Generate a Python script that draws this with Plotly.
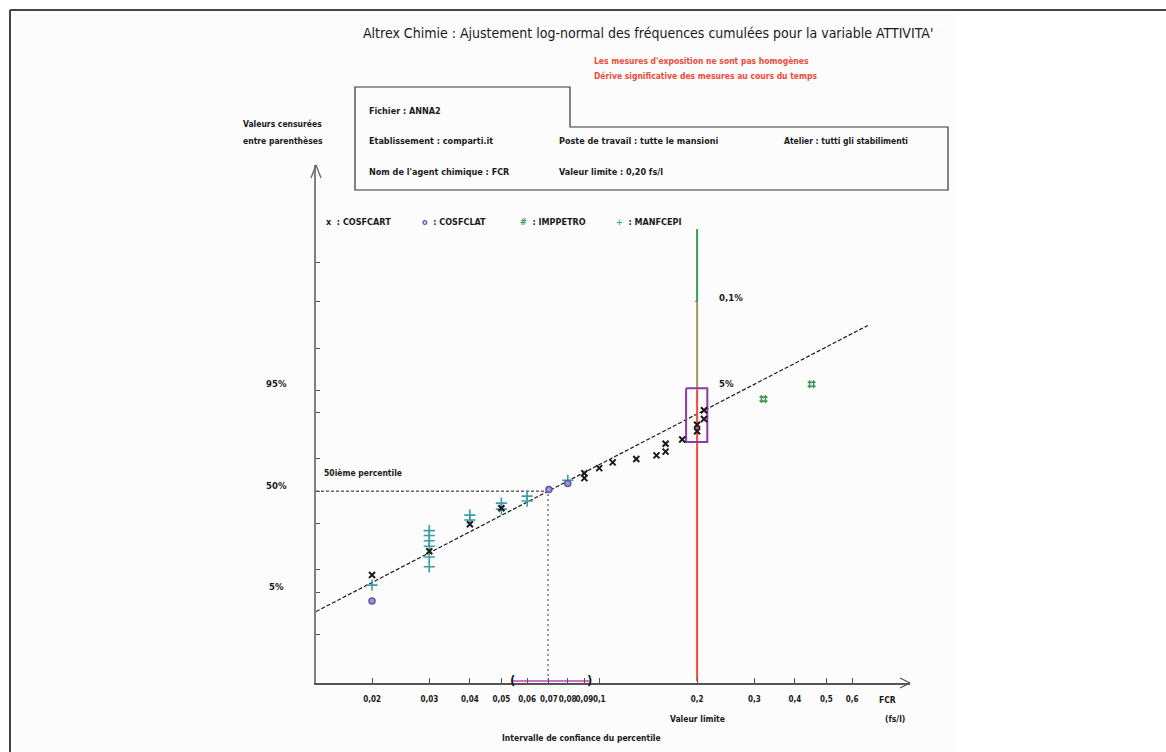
import math
from statistics import NormalDist
import plotly.graph_objects as go

# ---------------------------------------------------------------- data
# Measured concentrations (fs/l) and their cumulative frequencies (%)
cart_x = [0.02, 0.03, 0.04, 0.05, 0.09, 0.09, 0.10, 0.11, 0.13, 0.15, 0.16, 0.16, 0.18, 0.20, 0.20, 0.21, 0.21]
cart_p = [8.6, 16.4, 29.5, 39.0, 58.4, 61.5, 64.6, 68.0, 70.0, 72.0, 74.0, 78.0, 80.0, 83.5, 86.0, 88.0, 90.6]

clat_x = [0.02, 0.07, 0.08]
clat_p = [3.7, 51.0, 55.0]

imp_x = [0.32, 0.45]
imp_p = [93.3, 95.9]

manf_x = [0.02, 0.03, 0.03, 0.03, 0.03, 0.03, 0.03, 0.04, 0.04, 0.05, 0.05, 0.06, 0.06, 0.08]
manf_p = [6.3, 26.0, 23.5, 21.0, 18.5, 14.2, 10.9, 34.8, 31.9, 42.3, 38.5, 46.8, 43.6, 57.0]

# Fitted log-normal line (end points)
fit_x = [0.01345, 0.67]
fit_p = [2.5, 99.65]

# 50th percentile and its confidence interval
median_x = 0.0696
median_p = 50.0
ci_x = [0.054, 0.093]

# Limit value and exceedance zones along it
vle = 0.20
zone_red_p = [0.1, 95.0]
zone_olive_p = [95.0, 99.9]
zone_green_p = [99.9, 99.999]
box_x = [0.185, 0.215]
box_p = [78.8, 95.3]

xtick_vals = [0.02, 0.03, 0.04, 0.05, 0.06, 0.07, 0.08, 0.09, 0.1, 0.2, 0.3, 0.4, 0.5, 0.6]
xtick_text = ["0,02", "0,03", "0,04", "0,05", "0,06", "0,07", "0,08", "0,09", "0,1",
              "0,2", "0,3", "0,4", "0,5", "0,6"]
ytick_p = [1, 5, 10, 30, 50, 70, 90, 95, 99, 99.9, 99.99]
ylabel_p = [95, 50, 5]
ylabel_text = ["95%", "50%", "5%"]

# ---------------------------------------------------------------- helpers
nd = NormalDist()


def z(p):
    return nd.inv_cdf(p / 100.0)


def zs(ps):
    return [z(p) for p in ps]


W, H = 1166, 752
L, RGT, T, B = 316, 910, 165, 683          # plot area in pixels


def px(x):
    return (x - L) / (RGT - L)


def py(y):
    return (B - y) / (B - T)


FONT = "DejaVu Sans Condensed, DejaVu Sans, sans-serif"
BLACK = "#1a1a1a"
RED = "#f04a3a"
OLIVE = "#a39a4e"
GREEN = "#3a9a55"
PURPLE = "#8b3aa8"
PINK = "#d070d0"
TEAL = "#3a9ea6"
BLUE = "#5a5aa8"

fig = go.Figure()

# fitted line
fig.add_trace(go.Scatter(x=fit_x, y=zs(fit_p), mode="lines",
                         line=dict(color=BLACK, width=1.2, dash="4px,2px"), showlegend=False))

# 50th percentile guides
x_left = 10 ** (-1.8713)
fig.add_trace(go.Scatter(x=[x_left, median_x], y=[z(median_p)] * 2, mode="lines",
                         line=dict(color=BLACK, width=1, dash="3px,2px"), showlegend=False))
fig.add_trace(go.Scatter(x=[median_x, median_x], y=[z(0.1), z(median_p)], mode="lines",
                         line=dict(color="#777777", width=1.5, dash="2px,3px"), showlegend=False))

# confidence interval of the percentile
fig.add_trace(go.Scatter(x=ci_x, y=[z(0.1)] * 2, mode="lines",
                         line=dict(color=PINK, width=2), showlegend=False))

# limit value line, coloured by exceedance zone
for rng, col in ((zone_red_p, RED), (zone_olive_p, OLIVE), (zone_green_p, GREEN)):
    fig.add_trace(go.Scatter(x=[vle, vle], y=zs(rng), mode="lines",
                             line=dict(color=col, width=2), showlegend=False))
fig.add_trace(go.Scatter(x=[vle * 0.985, vle], y=[z(99.9)] * 2, mode="lines",
                         line=dict(color="#666666", width=1), showlegend=False))

# box around the exceedance estimate
fig.add_trace(go.Scatter(x=[box_x[0], box_x[1], box_x[1], box_x[0], box_x[0]],
                         y=[z(box_p[1]), z(box_p[1]), z(box_p[0]), z(box_p[0]), z(box_p[1])],
                         mode="lines", line=dict(color=PURPLE, width=2), showlegend=False))

# measurement series
fig.add_trace(go.Scatter(x=manf_x, y=zs(manf_p), mode="markers", name="MANFCEPI",
                         marker=dict(symbol="cross-thin", size=8, line=dict(color=TEAL, width=1.6)),
                         showlegend=False))
fig.add_trace(go.Scatter(x=cart_x, y=zs(cart_p), mode="markers", name="COSFCART",
                         marker=dict(symbol="x-thin", size=6, line=dict(color=BLACK, width=2)),
                         showlegend=False))
fig.add_trace(go.Scatter(x=clat_x, y=zs(clat_p), mode="markers", name="COSFCLAT",
                         marker=dict(symbol="circle", size=6, color="#9a9ad0",
                                     line=dict(color=BLUE, width=1.5)),
                         showlegend=False))
fig.add_trace(go.Scatter(x=imp_x, y=zs(imp_p), mode="markers", name="IMPPETRO",
                         marker=dict(symbol="hash-open", size=8, color=GREEN,
                                     line=dict(color=GREEN, width=1.6)),
                         showlegend=False))

# ---------------------------------------------------------------- annotations
ann = []


def text(x, y, s, size=10, color=BLACK, anchor="left", bold=True, vanchor="middle"):
    ann.append(dict(x=px(x), y=py(y), xref="paper", yref="paper", text=s, showarrow=False,
                    xanchor=anchor, yanchor=vanchor,
                    font=dict(family=FONT, size=size, color=color,
                              weight="bold" if bold else "normal")))


text(648, 33, "Altrex Chimie : Ajustement log-normal des fréquences cumulées pour la variable ATTIVITA'",
     size=14, anchor="center", bold=False)
text(592, 61, "Les mesures d'exposition ne sont pas homogènes", size=8.5, color=RED)
text(592, 76, "Dérive significative des mesures au cours du temps", size=8.5, color=RED)

text(367, 111, "Fichier : ANNA2", size=9)
text(367, 141, "Etablissement : comparti.it", size=9)
text(557, 141, "Poste de travail : tutte le mansioni", size=9)
text(782, 141, "Atelier : tutti gli stabilimenti", size=8.5)
text(367, 172, "Nom de l'agent chimique : FCR", size=9)
text(557, 172, "Valeur limite : 0,20 fs/l", size=9)

text(241, 124, "Valeurs censurées", size=8.5)
text(241, 141, "entre parenthèses", size=8.5)

legend_items = [("x", BLACK, 324, "COSFCART"), ("o", BLUE, 420, "COSFCLAT"),
                ("#", GREEN, 518, "IMPPETRO"), ("+", TEAL, 614, "MANFCEPI")]
for sym, col, x0, name in legend_items:
    text(x0, 222, f'<span style="color:{col}">{sym}</span>  : {name}', size=9)

text(322, 473, "50ième percentile", size=8.5)

for p, s in zip(ylabel_p, ylabel_text):
    ann.append(dict(x=px(276), y=z(p) + 0.1, xref="paper", yref="y", text=s, showarrow=False,
                    xanchor="center", yanchor="middle",
                    font=dict(family=FONT, size=9.5, color=BLACK, weight="bold")))

ann.append(dict(x=px(717), y=z(99.9) + 0.07, xref="paper", yref="y", text="0,1%", showarrow=False,
                xanchor="left", yanchor="middle",
                font=dict(family=FONT, size=9.5, color=BLACK, weight="bold")))
ann.append(dict(x=px(717), y=z(95) + 0.1, xref="paper", yref="y", text="5%", showarrow=False,
                xanchor="left", yanchor="middle",
                font=dict(family=FONT, size=9.5, color=BLACK, weight="bold")))

# brackets of the confidence interval
for xv, s in ((ci_x[0], "("), (ci_x[1], ")")):
    ann.append(dict(x=math.log10(xv), y=z(0.1), xref="x", yref="y", text=s, showarrow=False,
                    xanchor="center", yanchor="middle",
                    font=dict(family=FONT, size=13, color=BLACK, weight="bold")))

text(697, 719, "Valeur limite", size=8.5, anchor="center")
text(500, 738, "Intervalle de confiance du percentile", size=8.5)
text(887, 700, "FCR", size=8.5, anchor="center")
text(895, 719, "(fs/l)", size=8.5, anchor="center")

# ---------------------------------------------------------------- shapes
shapes = []


def line(x0, y0, x1, y1, color="#555555", width=1.5):
    shapes.append(dict(type="line", xref="paper", yref="paper",
                       x0=px(x0), y0=py(y0), x1=px(x1), y1=py(y1),
                       line=dict(color=color, width=width)))


# page frame
shapes.append(dict(type="rect", xref="paper", yref="paper", x0=px(10), y0=py(752), x1=px(958), y1=py(10),
                   fillcolor="#fcfcfc", line=dict(width=0), layer="below"))
line(10, 10, 1166, 10, color="#444444", width=2)
line(10, 10, 10, 752, color="#444444", width=2)

# info box
pts = [(355, 190), (355, 87), (570, 87), (570, 127), (948, 127), (948, 190)]
path = "M " + " L ".join(f"{px(a):.5f},{py(b):.5f}" for a, b in pts) + " Z"
shapes.append(dict(type="path", xref="paper", yref="paper", path=path,
                   line=dict(color="#333333", width=1.2)))

# axis arrows
line(316, 165, 311, 178, color="#666666", width=1.3)
line(316, 165, 321, 178, color="#666666", width=1.3)
line(910, 683, 900, 678, color="#555555", width=1.3)
line(910, 683, 900, 688, color="#555555", width=1.3)

# ---------------------------------------------------------------- layout
fig.update_layout(
    width=W, height=H,
    margin=dict(l=L, r=W - RGT, t=T, b=H - B, pad=0),
    paper_bgcolor="white", plot_bgcolor="rgba(0,0,0,0)",
    showlegend=False,
    annotations=ann, shapes=shapes,
    xaxis=dict(type="log", range=[-1.8713, -0.0441], showgrid=False, zeroline=False,
               showline=True, linecolor="#555555", linewidth=1.5,
               ticks="inside", ticklen=5, tickwidth=1, tickcolor="#555555",
               tickvals=xtick_vals, ticktext=xtick_text, ticklabelstandoff=8, tickangle=0,
               tickfont=dict(family=FONT, size=8, color=BLACK, weight="bold")),
    yaxis=dict(range=[-3.123, 5.309], showgrid=False, zeroline=False,
               showline=True, linecolor="#808080", linewidth=2,
               ticks="inside", ticklen=4, tickwidth=1, tickcolor="#555555",
               tickvals=zs(ytick_p), showticklabels=False),
)

fig.write_html("out.html")
